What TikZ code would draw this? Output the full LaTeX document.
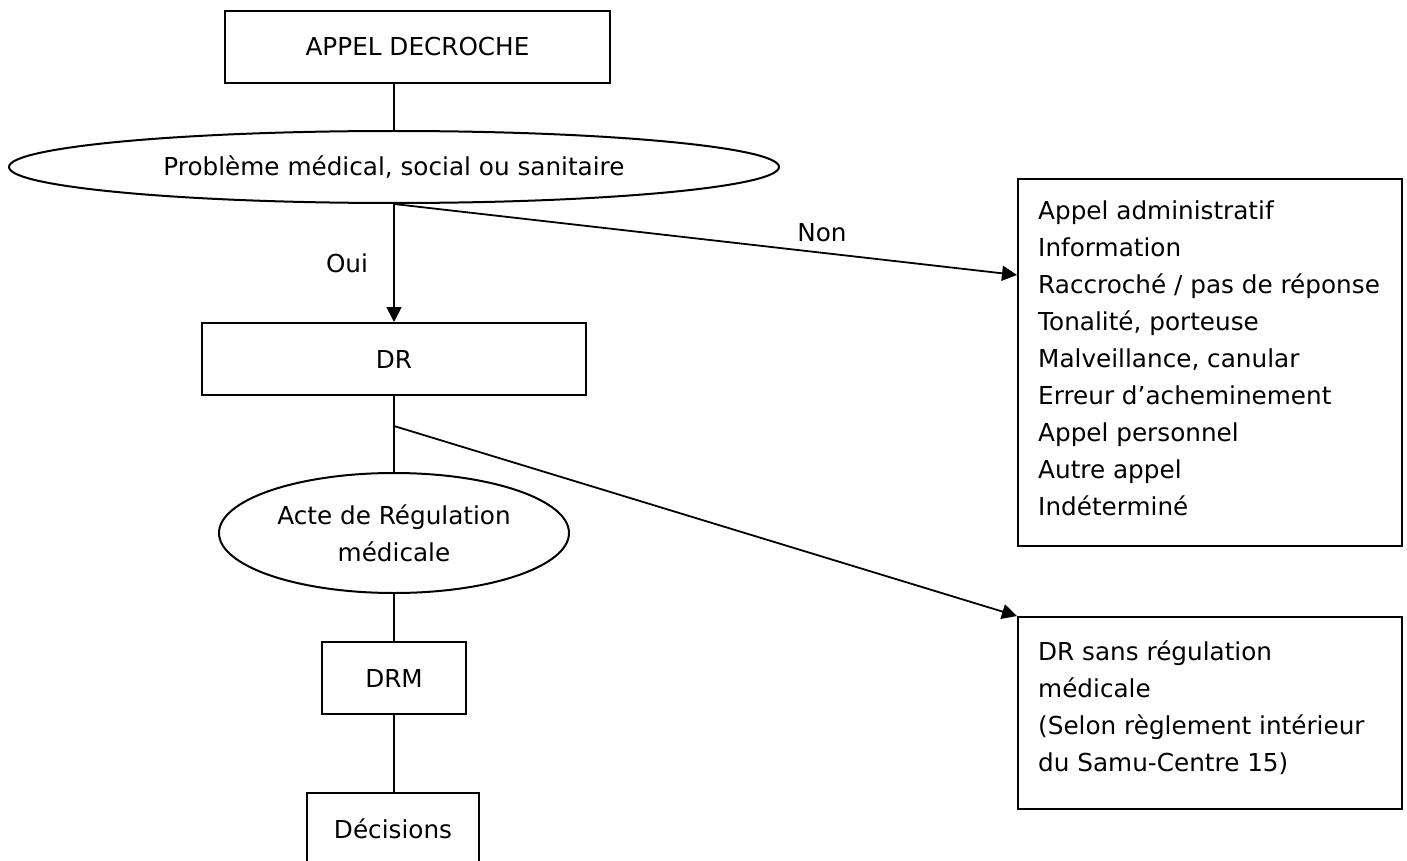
\documentclass[tikz,border=0pt]{standalone}
\usepackage{fontspec}
\setmainfont{DejaVu Sans}
\usetikzlibrary{shapes.geometric,arrows.meta}
\begin{document}
\begin{tikzpicture}[x=1pt,y=-1pt,
  every node/.style={font=\fontsize{24.7}{37}\selectfont},
  box/.style={draw,line width=2pt,inner sep=0pt},
  oval/.style={draw,ellipse,line width=2pt,inner sep=0pt},
  txt/.style={inner sep=0pt},
  conn/.style={line width=1.8pt},
  arr/.style={line width=1.8pt,-{Triangle[length=15pt,width=15pt]}}]
\useasboundingbox (0,0) rectangle (1407,861);
\clip (0,0) rectangle (1407,861);
\fill[white] (0,0) rectangle (1407,861);

% left column
\node[box, minimum width=385pt, minimum height=72pt] (appel) at (417.5,47) {APPEL DECROCHE};
\node[oval, minimum width=770pt, minimum height=72pt] (e1) at (394,167) {Problème médical, social ou sanitaire};
\node[box, minimum width=384pt, minimum height=72pt] (dr) at (394,359) {DR};
\node[oval, minimum width=350pt, minimum height=120pt, align=center] (e2) at (394,533) {Acte de Régulation\\médicale};
\node[box, minimum width=144pt, minimum height=72pt] (drm) at (394,678) {DRM};
\node[box, minimum width=172pt, minimum height=72pt] (dec) at (393,829) {Décisions};

% right column
\node[box, minimum width=384pt, minimum height=367pt] (r1) at (1210,362.5) {};
\node[txt, align=left, anchor=base west] (r1t) at (1038,515) {Appel administratif\\Information\\Raccroché / pas de réponse\\Tonalité, porteuse\\Malveillance, canular\\Erreur d’acheminement\\Appel personnel\\Autre appel\\Indéterminé};
\node[box, minimum width=384pt, minimum height=192pt] (r2) at (1210,713) {};
\node[txt, align=left, anchor=base west] (r2t) at (1038,771) {DR sans régulation\\médicale\\(Selon règlement intérieur\\du Samu-Centre 15)};

% labels
\node[txt] (oui) at (347,263) {Oui};
\node[txt] (non) at (822,233) {Non};

% connectors
\path (r1.north west) ++(0,97) coordinate (r1in);
\path (dr.south) ++(0,30) coordinate (drfork);
\draw[conn] (e1.north |- appel.south) -- (e1.north);
\draw[arr] (e1.south) -- (dr.north);
\draw[arr] (e1.south) -- (r1in);
\draw[conn] (dr.south) -- (e2.north);
\draw[arr] (drfork) -- (r2.north west);
\draw[conn] (e2.south) -- (drm.north);
\draw[conn] (drm.south) -- (drm.south |- dec.north);
\end{tikzpicture}
\end{document}
